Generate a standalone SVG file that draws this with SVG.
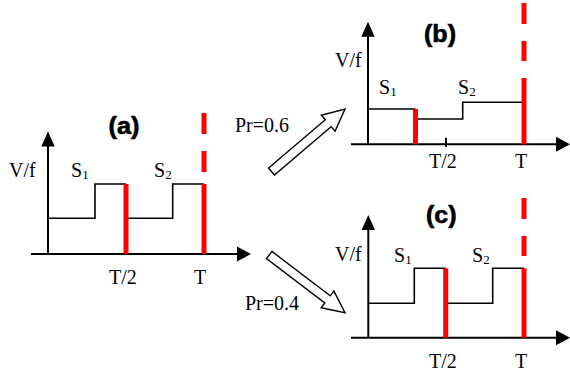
<svg xmlns="http://www.w3.org/2000/svg" width="570" height="372" viewBox="0 0 570 372">
<defs>
<style>
.ax{stroke:#000;stroke-width:2;fill:none}
.ah{fill:#000;stroke:none}
.st{stroke:#000;stroke-width:1.6;fill:none}
.rd{stroke:#ff0000;stroke-width:5;fill:none}
.rdd{stroke:#ff0000;stroke-width:5;fill:none;stroke-dasharray:21 17}
.tx{font-family:"Liberation Serif","Times New Roman",serif;font-size:20px;fill:#000}
.sb{font-size:13px}
.lb{font-family:"Liberation Sans",Arial,sans-serif;font-size:23px;font-weight:bold;fill:#000;stroke:#000;stroke-width:0.6}
.ba{fill:#fff;stroke:#000;stroke-width:1.4;stroke-linejoin:miter}
</style>
</defs>
<rect width="570" height="372" fill="#fff"/>
<g id="panel-a">
<line class="ax" x1="31" y1="254" x2="238" y2="254"/>
<polygon class="ah" points="251,254 237,246.5 237,261.5"/>
<line class="ax" x1="48" y1="254" x2="48" y2="145"/>
<polygon class="ah" points="48,131.5 41.3,146.5 54.7,146.5"/>
<polyline class="st" points="48,218.3 95,218.3 95,184 126,184"/>
<polyline class="st" points="126,218.3 172.7,218.3 172.7,184 204,184"/>
<line class="rd" x1="126" y1="184" x2="126" y2="254"/>
<line class="rd" x1="204" y1="184" x2="204" y2="254"/>
<line class="rdd" x1="204" y1="113" x2="204" y2="172"/>
<text class="lb" x="108.5" y="134" textLength="31" lengthAdjust="spacingAndGlyphs">(a)</text>
<text class="tx" x="9" y="176.5">V/f</text>
<text class="tx" x="71" y="176.5">S<tspan class="sb" dy="2">1</tspan></text>
<text class="tx" x="154" y="176.5">S<tspan class="sb" dy="2">2</tspan></text>
<text class="tx" x="109" y="284.3">T/2</text>
<text class="tx" x="194" y="284.3">T</text>
</g>
<g id="panel-b">
<line class="ax" x1="351" y1="144.3" x2="557" y2="144.3"/>
<polygon class="ah" points="570,144.3 556,136.8 556,151.8"/>
<line class="ax" x1="368" y1="144.3" x2="368" y2="35"/>
<polygon class="ah" points="368,21.7 361.3,36.7 374.7,36.7"/>
<polyline class="st" points="368,109 415.5,109"/>
<polyline class="st" points="415.5,119 462.7,119 462.7,102.3 524,102.3"/>
<line class="rd" x1="415.5" y1="109" x2="415.5" y2="144.3"/>
<line class="rd" x1="524" y1="78" x2="524" y2="144.3"/>
<line class="rdd" x1="524" y1="3" x2="524" y2="61"/>
<line class="ax" x1="446" y1="137.7" x2="446" y2="147"/>
<text class="lb" x="424" y="41.5" textLength="32" lengthAdjust="spacingAndGlyphs">(b)</text>
<text class="tx" x="335" y="67">V/f</text>
<text class="tx" x="379" y="94">S<tspan class="sb" dy="2">1</tspan></text>
<text class="tx" x="458" y="94">S<tspan class="sb" dy="2">2</tspan></text>
<text class="tx" x="429" y="168.3">T/2</text>
<text class="tx" x="515" y="168.3">T</text>
</g>
<g id="panel-c">
<line class="ax" x1="351" y1="337.7" x2="557" y2="337.7"/>
<polygon class="ah" points="570,337.7 556,330.2 556,345.2"/>
<line class="ax" x1="368.3" y1="337.7" x2="368.3" y2="228"/>
<polygon class="ah" points="368.3,215 361.6,230 375,230"/>
<polyline class="st" points="368.3,303.3 414.3,303.3 414.3,268.3 445.7,268.3"/>
<polyline class="st" points="445.7,303.3 492.7,303.3 492.7,268.3 524,268.3"/>
<line class="rd" x1="445.7" y1="268.3" x2="445.7" y2="337.7"/>
<line class="rd" x1="524" y1="268.3" x2="524" y2="337.7"/>
<line class="rdd" x1="524" y1="198" x2="524" y2="256"/>
<text class="lb" x="426" y="223" textLength="30.5" lengthAdjust="spacingAndGlyphs">(c)</text>
<text class="tx" x="335" y="261">V/f</text>
<text class="tx" x="394" y="261.5">S<tspan class="sb" dy="2">1</tspan></text>
<text class="tx" x="472" y="261.5">S<tspan class="sb" dy="2">2</tspan></text>
<text class="tx" x="429" y="368">T/2</text>
<text class="tx" x="515" y="368">T</text>
</g>
<g id="connectors">
<g id="arrow-b">
<polygon class="ba" transform="translate(271.5,171.5) rotate(-40.4)" points="0,-4.5 74.5,-4.5 74.5,-10.5 96.5,0 74.5,10.5 74.5,4.5 0,4.5"/>
<text class="tx" x="235" y="131.7">Pr=0.6</text>
</g>
<g id="arrow-c">
<polygon class="ba" transform="translate(269.2,255) rotate(37.3)" points="0,-4.5 73.3,-4.5 73.3,-10.5 95.3,0 73.3,10.5 73.3,4.5 0,4.5"/>
<text class="tx" x="245" y="310">Pr=0.4</text>
</g>
</g>
</svg>
